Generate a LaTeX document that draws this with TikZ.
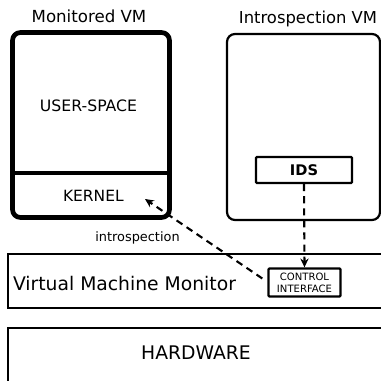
\documentclass[tikz,border=0pt]{standalone}
\usepackage{fontspec}
\setmainfont{DejaVu Sans}
\usetikzlibrary{arrows.meta}

\begin{document}
\begin{tikzpicture}[x=0.03cm,y=-0.03cm]
            \tikzset{
                vmbox/.style={draw, rounded corners=0.24cm},
                layerbox/.style={draw, line width=2.4pt},
                smallbox/.style={draw, line width=2pt, rounded corners=0.8pt, fill=white},
                link/.style={line width=1.8pt, dash pattern=on 6pt off 4.3pt, -{Stealth[length=7.5pt,width=7pt]}},
                % title/.style={font=\fontsize{13}{15}\selectfont}
            }

            \useasboundingbox (0,0) rectangle (381,381);
            \clip (0,0) rectangle (381,381);

            \node[vmbox, line width=4pt, minimum width=4.71cm, minimum height=5.55cm] (mvm) at (91,125){};
            \node[minimum width=4.71cm, minimum height=1.33cm, inner sep=0pt] (kernel) at (91,195.5){};
            \node[vmbox, line width=1.9pt, minimum width=4.59cm, minimum height=5.58cm] (ivm) at (303.5,127){};
            \node[smallbox, minimum width=2.88cm, minimum height=0.78cm] (ids) at (304,170){};
            \node[layerbox, minimum width=12.36cm, minimum height=1.62cm] (vmm) at (214,281){};
            \node[smallbox, minimum width=2.16cm, minimum height=0.84cm] (ci) at (304.5,282.5){};
            \node[layerbox, minimum width=12.36cm, minimum height=2.76cm] (hw) at (214,374){};

            \draw[line width=3pt] (kernel.north west) -- (kernel.north east);

            \node[font=\fontsize{14.2}{16}\selectfont] (mvmtitle) at (89,16){Monitored VM};
            \node[font=\fontsize{14}{16}\selectfont] (ivmtitle) at (308,19){Introspection VM};
            \node[font=\fontsize{13.4}{15}\selectfont] (user) at (88.5,106){USER-SPACE};
            \node[font=\fontsize{13.2}{15}\selectfont] at (kernel.center)[xshift=0.07cm]{KERNEL};
            \node[font=\bfseries\fontsize{12.5}{15}\selectfont] at (ids.center){IDS};
            \node[font=\fontsize{16}{19}\selectfont] (vmmtext) at (124.5,284){Virtual Machine Monitor};
            \node[font=\fontsize{16}{19}\selectfont] (hwtext) at (196,353){HARDWARE};
            \node[font=\fontsize{8.6}{10.5}\selectfont, align=center] at (ci.center){CONTROL\\INTERFACE};

            \coordinate (ktip) at (145,199);
            \draw[link] (ids.south) -- (ci.north);
            \draw[link] ([shift={(-5,-4)}]ci.west) -- (ktip);
            \node[font=\fontsize{11}{13}\selectfont] (intro) at (137.5,238){introspection};
\end{tikzpicture}
\end{document}
